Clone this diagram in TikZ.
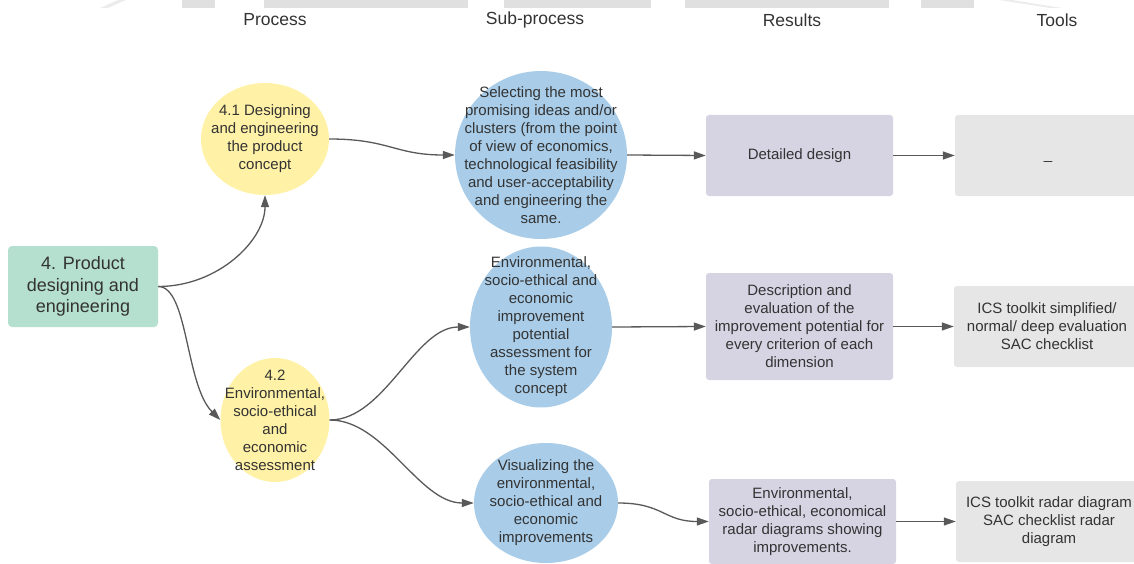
\documentclass[tikz,border=0pt]{standalone}
\usepackage{fontspec}
\setmainfont{Liberation Sans}
\usetikzlibrary{shapes.geometric,arrows.meta}
\definecolor{txtgrey}{HTML}{333333}
\definecolor{linegrey}{HTML}{595959}
\definecolor{stepgreen}{HTML}{B5DFCE}
\definecolor{procyellow}{HTML}{FFF1A6}
\definecolor{subblue}{HTML}{A9CDE9}
\definecolor{reslilac}{HTML}{D6D3E3}
\definecolor{toolgrey}{HTML}{E6E6E6}
\definecolor{fraggrey}{HTML}{E0E0E0}
\begin{document}
\begin{tikzpicture}[x=1pt, y=-1pt,
    every node/.style={text=txtgrey, font=\fontsize{15}{18}\selectfont, align=center},
    head/.style={font=\fontsize{17.5}{20}\selectfont},
    lbl/.style={inner sep=0pt},
    mainbox/.style={rectangle, rounded corners=4pt, fill=stepgreen, minimum width=150, minimum height=81, font=\fontsize{18}{21.5}\selectfont},
    procell/.style={ellipse, fill=procyellow, inner sep=0pt},
    subell/.style={ellipse, fill=subblue, inner sep=0pt},
    resbox/.style={rectangle, rounded corners=3pt, fill=reslilac, minimum width=187},
    toolbox/.style={rectangle, rounded corners=3pt, fill=toolgrey, minimum width=186, minimum height=81},
    flow/.style={draw=linegrey, line width=1.3pt, -{Triangle[length=12pt, width=8pt]}}]
    \useasboundingbox (0,0) rectangle (1134,564);
    \clip (0,0) rectangle (1134,564);

    % Cropped strip at the top
    \fill[fraggrey] (182,0) rectangle (215,8);
    \fill[fraggrey] (264,0) rectangle (468,8);
    \fill[fraggrey] (504,0) rectangle (651,8);
    \fill[fraggrey] (685,0) rectangle (889,8);
    \fill[fraggrey] (921,0) rectangle (974,8);
    \fill[fraggrey!60] (100,8) -- (118,0) -- (126,0) -- (108,8) -- cycle;
    \fill[fraggrey!60] (999,0) -- (1012,0) -- (1062,8) -- (1050,8) -- cycle;

    % Column headers
    \node[head] (hproc) at (275,20) {Process};
    \node[head] (hsub) at (535,20) {Sub-process};
    \node[head] (hres) at (792,20) {Results};
    \node[head] (htool) at (1057,20) {Tools};

    % Main step
    \node[mainbox] (main) at (83,286.5) {4. Product\\designing and\\engineering};

    % Process
    \node[procell, minimum width=128, minimum height=112,
      label={[lbl]center:{4.1 Designing\\and engineering\\the product\\concept}}] (p41) at (265,139) {};
    \node[procell, minimum width=109, minimum height=124,
      label={[lbl]center:{4.2\\Environmental,\\socio-ethical\\and\\economic\\assessment}}] (p42) at (275,420) {};

    % Sub-process
    \node[subell, minimum width=172, minimum height=168,
      label={[lbl]center:{Selecting the most\\promising ideas and/or\\clusters (from the point\\of view of economics,\\technological feasibility\\and user-acceptability\\and engineering the\\same.}}] (s1) at (541,155) {};
    \node[subell, minimum width=142, minimum height=161,
      label={[lbl]center:{Environmental,\\socio-ethical and\\economic\\improvement\\potential\\assessment for\\the system\\concept}}] (s2) at (541,327) {};
    \node[subell, minimum width=144, minimum height=120,
      label={[lbl]center:{Visualizing the\\environmental,\\socio-ethical and\\economic\\improvements}}] (s3) at (546,503) {};

    % Results
    \node[resbox, minimum height=81] (r1) at (799.5,155.5) {Detailed design};
    \node[resbox, minimum height=107] (r2) at (799.5,326.5) {Description and\\evaluation of the\\improvement potential for\\every criterion of each\\dimension};
    \node[resbox, minimum height=85] (r3) at (802.5,521.5) {Environmental,\\socio-ethical, economical\\radar diagrams showing\\improvements.};

    % Tools
    \node[toolbox] (t1) at (1048,155.5) {\strut\textunderscore};
    \node[toolbox] (t2) at (1047,326.5) {ICS toolkit simplified/\\normal/ deep evaluation\\SAC checklist};
    \node[toolbox] (t3) at (1049,521.5) {ICS toolkit radar diagram\\SAC checklist radar\\diagram};

    % Connectors
    \draw[flow] (main.east) .. controls +(60,0) and +(0,45) .. (p41.south);
    \draw[flow] (main.east) .. controls +(30,0) and +(-35,-35) .. (p42.west);
    \draw[flow] (p41.east) .. controls +(60,0) and +(-60,0) .. (s1.west);
    \draw[flow] (p42.east) .. controls +(55,0) and +(-55,0) .. (s2.west);
    \draw[flow] (p42.east) .. controls +(55,0) and +(-55,0) .. (s3.west);
    \draw[flow] (s1.east) -- (r1.west);
    \draw[flow] (s2.east) -- (r2.west);
    \draw[flow] (s3.east) .. controls +(45,0) and +(-45,0) .. (r3.west);
    \draw[flow] (r1.east) -- (t1.west);
    \draw[flow] (r2.east) -- (t2.west);
    \draw[flow] (r3.east) -- (t3.west);
\end{tikzpicture}
\end{document}
